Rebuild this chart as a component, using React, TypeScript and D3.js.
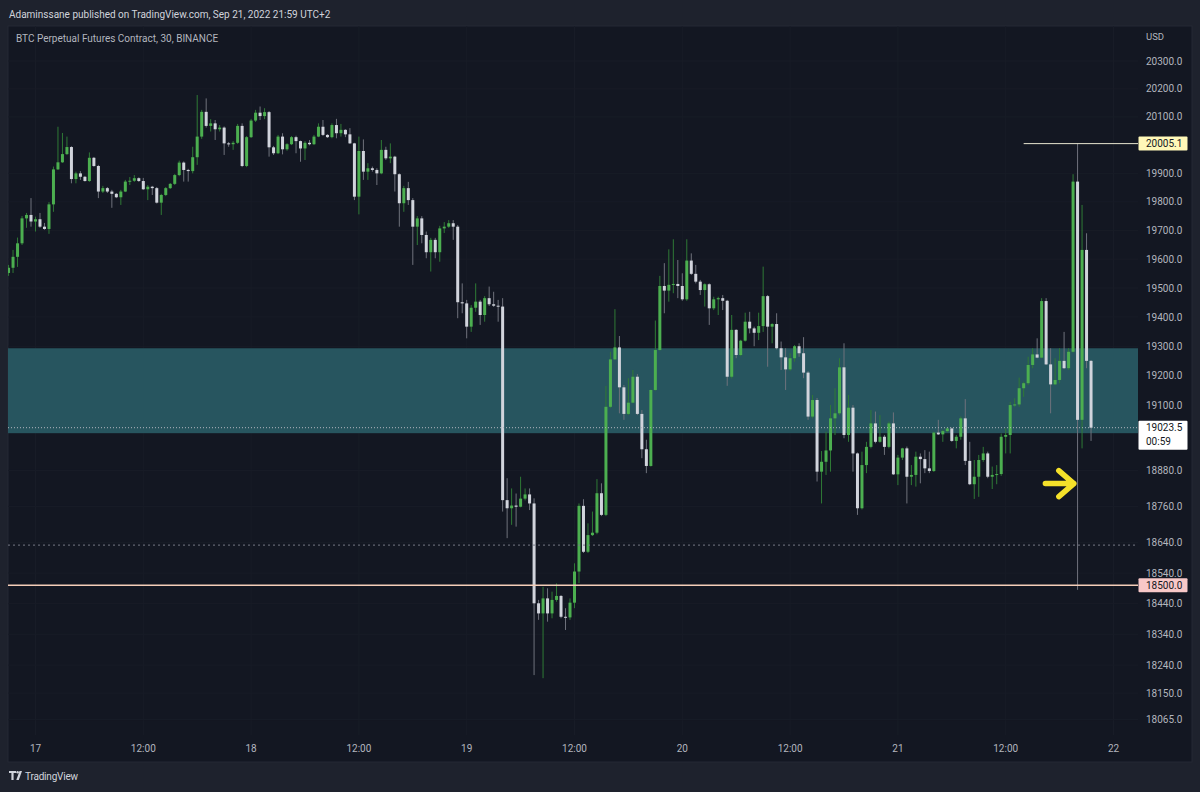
import React, { useEffect, useRef } from 'react';
import * as d3 from 'd3';

// ---- Data: BTC Perpetual 30m candles, first candle Sep 16 21:00 ----
const FIRST_CANDLE = Date.UTC(2022, 8, 16, 21, 0);
const STEP_MS = 30 * 60 * 1000;

const OPEN = [
  19552, 19570, 19608, 19655, 19742, 19754, 19731, 19739, 19713, 19705, 19791, 19914, 19939, 19968, 19993, 19880, 19900, 19888, 19873, 19955,
  19926, 19836, 19848, 19836, 19828, 19816, 19836, 19871, 19874, 19883, 19873, 19844, 19853, 19848, 19797, 19824, 19848, 19863, 19894, 19938,
  19912, 19908, 19957, 20030, 20118, 20068, 20077, 20056, 20062, 20006, 20003, 20008, 20068, 19926, 20028, 20087, 20115, 20103, 20117, 19992,
  19971, 20030, 19985, 20003, 20028, 20014, 19988, 20008, 20003, 20030, 20065, 20036, 20028, 20071, 20042, 20054, 20038, 20006, 19818, 19979,
  19906, 19918, 19912, 19900, 19983, 19953, 19959, 19897, 19795, 19848, 19806, 19713, 19742, 19684, 19624, 19667, 19624, 19707, 19713, 19725,
  19713, 19451, 19447, 19367, 19432, 19453, 19407, 19465, 19444, 19439, 19436, 18781, 18754, 18763, 18759, 18786, 18800, 18770, 18441, 18408,
  18457, 18408, 18452, 18465, 18397, 18395, 18443, 18545, 18762, 18610, 18665, 18673, 18804, 18732, 19094, 19255, 19296, 19160, 19070, 19108,
  19196, 19070, 18951, 18895, 19151, 19287, 19507, 19491, 19511, 19514, 19507, 19461, 19595, 19549, 19522, 19493, 19513, 19430, 19461, 19465,
  19456, 19196, 19356, 19270, 19319, 19384, 19361, 19346, 19369, 19472, 19367, 19376, 19293, 19262, 19221, 19259, 19300, 19276, 19210, 19061,
  19117, 18876, 18909, 18947, 19055, 19072, 19228, 18999, 19091, 18937, 18754, 18898, 18959, 19038, 18976, 18993, 18959, 19038, 18867, 18923,
  18954, 18859, 18865, 18926, 18918, 18887, 18878, 19007, 19001, 19012, 19021, 18979, 18993, 19055, 18912, 18834, 18859, 18915, 18937, 18859,
  18865, 18868, 18993, 18999, 19100, 19102, 19157, 19174, 19236, 19272, 19261, 19455, 19238, 19170, 19185, 19250, 19225, 19281, 19871, 19050,
  19632, 19250,
];
const HIGH = [
  19580, 19632, 19675, 19750, 19761, 19813, 19748, 19761, 19726, 19799, 19924, 20065, 20043, 20030, 19996, 19906, 19908, 19891, 19974, 19958,
  19930, 19856, 19852, 19842, 19831, 19842, 19877, 19887, 19894, 19886, 19884, 19859, 19856, 19852, 19828, 19852, 19866, 19898, 19945, 19942,
  19916, 19994, 20178, 20125, 20166, 20092, 20089, 20071, 20066, 20011, 20014, 20075, 20077, 20032, 20093, 20125, 20137, 20131, 20121, 19997,
  20036, 20042, 20007, 20032, 20033, 20016, 20014, 20018, 20036, 20077, 20089, 20039, 20077, 20093, 20075, 20056, 20060, 20008, 20030, 20020,
  19936, 19924, 19918, 20018, 19994, 20006, 19962, 19900, 19856, 19870, 19813, 19750, 19750, 19696, 19674, 19674, 19716, 19729, 19736, 19736,
  19719, 19516, 19459, 19441, 19516, 19459, 19472, 19505, 19487, 19459, 19465, 18854, 18820, 18803, 18859, 18820, 18820, 18787, 18452, 18495,
  18490, 18479, 18506, 18468, 18425, 18457, 18572, 18770, 18784, 18704, 18743, 18851, 18837, 19165, 19281, 19427, 19335, 19168, 19191, 19219,
  19205, 19083, 18983, 19153, 19388, 19542, 19586, 19634, 19669, 19597, 19551, 19669, 19620, 19580, 19528, 19516, 19516, 19470, 19470, 19476,
  19459, 19407, 19358, 19322, 19415, 19418, 19367, 19415, 19574, 19476, 19379, 19413, 19316, 19293, 19276, 19304, 19310, 19331, 19215, 19134,
  19124, 18945, 19010, 19100, 19157, 19259, 19310, 19134, 19100, 18940, 18943, 18976, 19083, 19078, 19066, 18999, 19044, 19075, 18932, 18956,
  18960, 18898, 18943, 18937, 18948, 18943, 19010, 19050, 19016, 19025, 19024, 18999, 19061, 19120, 18976, 18915, 18932, 18959, 18943, 18893,
  18898, 19004, 19021, 19111, 19123, 19193, 19179, 19264, 19293, 19327, 19465, 19465, 19293, 19259, 19293, 19349, 19293, 19897, 20005.1, 19789,
  19690, 19253,
];
const LOW = [
  19542, 19552, 19573, 19649, 19709, 19713, 19696, 19709, 19702, 19688, 19765, 19912, 19937, 19965, 19865, 19865, 19877, 19871, 19870, 19923,
  19813, 19831, 19831, 19779, 19813, 19789, 19834, 19859, 19870, 19870, 19842, 19806, 19824, 19794, 19754, 19820, 19845, 19859, 19890, 19871,
  19871, 19900, 19930, 20022, 20062, 20048, 20018, 20048, 19965, 19994, 19983, 20004, 19922, 19922, 20025, 20082, 20089, 20092, 19959, 19965,
  19968, 19967, 19980, 20000, 19971, 19941, 19947, 19999, 20000, 20028, 20032, 20025, 20024, 20024, 20030, 20028, 20004, 19806, 19756, 19877,
  19877, 19906, 19859, 19897, 19947, 19936, 19836, 19713, 19765, 19789, 19580, 19649, 19655, 19603, 19557, 19603, 19591, 19691, 19709, 19667,
  19396, 19413, 19327, 19349, 19418, 19373, 19384, 19438, 19435, 19384, 18743, 18655, 18699, 18693, 18757, 18780, 18748, 18208, 18387, 18198,
  18381, 18392, 18446, 18392, 18354, 18387, 18425, 18507, 18606, 18606, 18662, 18668, 18728, 18728, 19090, 19253, 19072, 19050, 19066, 19106,
  19066, 18921, 18871, 18893, 19148, 19285, 19413, 19453, 19482, 19465, 19456, 19456, 19545, 19516, 19476, 19436, 19373, 19424, 19407, 19424,
  19165, 19190, 19259, 19266, 19316, 19344, 19300, 19321, 19349, 19230, 19310, 19289, 19219, 19151, 19216, 19247, 19264, 19191, 19050, 19055,
  18843, 18770, 18865, 18876, 18999, 19066, 18988, 18976, 18876, 18732, 18750, 18871, 18954, 18971, 18973, 18932, 18954, 18865, 18831, 18915,
  18770, 18831, 18826, 18837, 18871, 18871, 18875, 18999, 18976, 19008, 18976, 18954, 18983, 18898, 18831, 18785, 18792, 18909, 18854, 18818,
  18834, 18862, 18937, 18937, 19094, 19094, 19128, 19168, 19225, 19259, 19259, 19236, 19072, 19168, 19174, 19222, 19219, 19278, 18485, 18954,
  19225, 18979,
];
const CLOSE = [
  19570, 19608, 19655, 19742, 19754, 19731, 19739, 19713, 19705, 19791, 19914, 19939, 19968, 19993, 19880, 19900, 19888, 19873, 19955, 19926,
  19836, 19848, 19836, 19828, 19816, 19836, 19871, 19874, 19883, 19873, 19844, 19853, 19848, 19797, 19824, 19848, 19863, 19894, 19938, 19912,
  19908, 19957, 20030, 20118, 20068, 20077, 20056, 20062, 20006, 20003, 20008, 20068, 19926, 20028, 20087, 20115, 20103, 20117, 19992, 19971,
  20030, 19985, 20003, 20028, 20014, 19988, 20008, 20003, 20030, 20065, 20036, 20028, 20071, 20042, 20054, 20038, 20006, 19818, 19979, 19906,
  19918, 19912, 19900, 19983, 19953, 19959, 19897, 19795, 19848, 19806, 19713, 19742, 19684, 19624, 19667, 19624, 19707, 19713, 19725, 19713,
  19451, 19447, 19367, 19432, 19453, 19407, 19465, 19444, 19439, 19436, 18781, 18754, 18763, 18759, 18786, 18800, 18770, 18441, 18408, 18457,
  18408, 18452, 18465, 18397, 18395, 18443, 18545, 18762, 18610, 18665, 18673, 18804, 18732, 19094, 19255, 19296, 19160, 19070, 19108, 19196,
  19070, 18951, 18895, 19151, 19287, 19507, 19491, 19511, 19514, 19507, 19461, 19595, 19549, 19522, 19493, 19513, 19430, 19461, 19465, 19456,
  19196, 19356, 19270, 19319, 19384, 19361, 19346, 19369, 19472, 19367, 19376, 19293, 19262, 19221, 19259, 19300, 19276, 19210, 19061, 19117,
  18876, 18909, 18947, 19055, 19072, 19228, 18999, 19091, 18937, 18754, 18898, 18959, 19038, 18976, 18993, 18959, 19038, 18867, 18923, 18954,
  18859, 18865, 18926, 18918, 18887, 18878, 19007, 19001, 19012, 19021, 18979, 18993, 19055, 18912, 18834, 18859, 18915, 18937, 18859, 18865,
  18868, 18993, 18999, 19100, 19102, 19157, 19174, 19236, 19272, 19261, 19455, 19238, 19170, 19185, 19250, 19225, 19281, 19871, 19050, 19632,
  19250, 19023.5,
];

// ---- Axes ----
const PRICE_TICKS = [20300, 20200, 20100, 19900, 19800, 19700, 19600, 19500, 19400, 19300, 19200, 19100, 18880, 18760, 18640, 18540, 18440, 18340, 18240, 18150, 18065];
const TIME_LABELS = ['17', '12:00', '18', '12:00', '19', '12:00', '20', '12:00', '21', '12:00', '22'];
const TIME_FIRST_TICK = Date.UTC(2022, 8, 17, 0, 0);

// ---- Annotations ----
const ZONE = [19005, 19293];
const SUPPORT = 18500;
const DOTTED_LEVEL = 18632;
const SPIKE_HIGH = 20005.1;
const SPIKE_LINE_FROM = Date.UTC(2022, 8, 21, 14, 0);
const LAST_PRICE = 19023.5;
const COUNTDOWN = '00:59';
const ARROW_FROM = Date.UTC(2022, 8, 21, 16, 25);
const ARROW_TO = Date.UTC(2022, 8, 21, 19, 35);
const ARROW_PRICE = 18836;

const W = 1200;
const H = 792;
const FONT = 'Roboto, "Open Sans", sans-serif';

export default function App() {
  const ref = useRef<SVGSVGElement>(null);

  useEffect(() => {
    document.body.style.margin = '0';
    document.body.style.background = '#1e222d';
    const svg = d3.select(ref.current);
    svg.selectAll('*').remove();

    const plot = { left: 8, right: 1138, top: 26, bottom: 735 };
    const panel = { left: 8, right: 1192, top: 26, bottom: 762 };

    const x = d3.scaleUtc()
      .domain([new Date(Date.UTC(2022, 8, 17)), new Date(Date.UTC(2022, 8, 22))])
      .range([35.5, 1113.5]);
    const y = d3.scaleLog().domain([18065, 20300]).range([719.6, 61]);

    // backgrounds
    svg.append('rect').attr('x', 0).attr('y', 0).attr('width', W).attr('height', H).attr('fill', '#1e222d');
    svg.append('rect')
      .attr('x', panel.left).attr('y', panel.top)
      .attr('width', panel.right - panel.left).attr('height', panel.bottom - panel.top)
      .attr('fill', '#131722').attr('stroke', '#242835').attr('stroke-width', 1);

    // header
    svg.append('text').attr('x', 9).attr('y', 17.5)
      .attr('font-family', FONT).attr('font-size', 10).attr('fill', '#d1d4dc')
      .text('Adaminssane published on TradingView.com, Sep 21, 2022 21:59 UTC+2');

    const defs = svg.append('defs');
    defs.append('clipPath').attr('id', 'plotclip').append('rect')
      .attr('x', plot.left).attr('y', plot.top)
      .attr('width', plot.right - plot.left).attr('height', plot.bottom - plot.top);

    const g = svg.append('g').attr('clip-path', 'url(#plotclip)');

    // grid
    const tickTimes = TIME_LABELS.map((_, k) => new Date(TIME_FIRST_TICK + k * 12 * 3600 * 1000));
    g.selectAll('line.vgrid').data(tickTimes).enter().append('line')
      .attr('x1', d => x(d)).attr('x2', d => x(d))
      .attr('y1', plot.top).attr('y2', plot.bottom)
      .attr('stroke', '#181c27').attr('stroke-width', 1);
    g.selectAll('line.hgrid').data(PRICE_TICKS).enter().append('line')
      .attr('x1', plot.left).attr('x2', plot.right)
      .attr('y1', d => y(d)).attr('y2', d => y(d))
      .attr('stroke', '#181c27').attr('stroke-width', 1);

    // zone
    g.append('rect')
      .attr('x', plot.left).attr('width', plot.right - plot.left)
      .attr('y', y(ZONE[1])).attr('height', y(ZONE[0]) - y(ZONE[1]))
      .attr('fill', '#27555f');

    // candles
    const candles = OPEN.map((o, i) => ({
      t: new Date(FIRST_CANDLE + i * STEP_MS),
      o, h: HIGH[i], l: LOW[i], c: CLOSE[i],
    }));
    const bodyW = 3;
    const cg = g.append('g');
    cg.selectAll('line.wick').data(candles).enter().append('line')
      .attr('x1', d => x(d.t)).attr('x2', d => x(d.t))
      .attr('y1', d => y(Math.max(d.h, d.o, d.c))).attr('y2', d => y(Math.min(d.l, d.o, d.c)))
      .attr('stroke', d => (d.c >= d.o ? '#2f7a36' : '#6f727c'))
      .attr('stroke-width', 1);
    cg.selectAll('rect.body').data(candles).enter().append('rect')
      .attr('x', d => x(d.t) - bodyW / 2)
      .attr('width', bodyW)
      .attr('y', d => y(Math.max(d.o, d.c)))
      .attr('height', d => Math.max(1, Math.abs(y(d.o) - y(d.c))))
      .attr('fill', d => (d.c >= d.o ? '#4caf50' : '#d1d4dc'));

    // level lines
    g.append('line')
      .attr('x1', plot.left).attr('x2', plot.right)
      .attr('y1', y(DOTTED_LEVEL)).attr('y2', y(DOTTED_LEVEL))
      .attr('stroke', '#787b86').attr('stroke-width', 1).attr('stroke-dasharray', '2,3');
    g.append('line')
      .attr('x1', plot.left).attr('x2', plot.right)
      .attr('y1', y(SUPPORT)).attr('y2', y(SUPPORT))
      .attr('stroke', '#f4cdb8').attr('stroke-width', 1.5);
    g.append('line')
      .attr('x1', plot.left).attr('x2', plot.right)
      .attr('y1', y(LAST_PRICE)).attr('y2', y(LAST_PRICE))
      .attr('stroke', '#b2b5be').attr('stroke-width', 1).attr('stroke-dasharray', '1,2');
    g.append('line')
      .attr('x1', x(new Date(SPIKE_LINE_FROM))).attr('x2', plot.right)
      .attr('y1', y(SPIKE_HIGH)).attr('y2', y(SPIKE_HIGH))
      .attr('stroke', '#e8e6d0').attr('stroke-width', 1);

    // arrow
    const ay = y(ARROW_PRICE);
    const ax0 = x(new Date(ARROW_FROM));
    const ax1 = x(new Date(ARROW_TO));
    g.append('path')
      .attr('d', `M${ax0},${ay}L${ax1},${ay}M${ax1 - 15},${ay - 13}L${ax1},${ay}L${ax1 - 15},${ay + 13}`)
      .attr('fill', 'none').attr('stroke', '#f5e12a').attr('stroke-width', 5.5)
      .attr('stroke-linecap', 'round').attr('stroke-linejoin', 'round');

    // title
    svg.append('text').attr('x', 16).attr('y', 41.5)
      .attr('font-family', FONT).attr('font-size', 10).attr('fill', '#b2b5be')
      .text('BTC Perpetual Futures Contract, 30, BINANCE');

    // price axis
    const axisX = 1146;
    svg.append('text').attr('x', axisX).attr('y', 39.5)
      .attr('font-family', FONT).attr('font-size', 9.5).attr('fill', '#b2b5be').text('USD');
    svg.selectAll('text.ptick').data(PRICE_TICKS).enter().append('text')
      .attr('x', axisX).attr('y', d => y(d) + 3.5)
      .attr('font-family', FONT).attr('font-size', 10).attr('fill', '#b2b5be')
      .text(d => d3.format('.1f')(d));

    const labelBox = (price: number, fill: string, lines: string[]) => {
      const cy = y(price);
      const hgt = lines.length > 1 ? 29 : 14;
      const top = cy - 7;
      svg.append('rect').attr('x', 1138.5).attr('y', top).attr('width', 49).attr('height', hgt)
        .attr('fill', fill).attr('rx', 1);
      lines.forEach((s, k) => {
        svg.append('text').attr('x', axisX).attr('y', top + 10.5 + k * 13.5)
          .attr('font-family', FONT).attr('font-size', 10).attr('fill', '#131722').text(s);
      });
    };
    labelBox(SPIKE_HIGH, '#fff8b8', [d3.format('.1f')(SPIKE_HIGH)]);
    labelBox(SUPPORT, '#f8c8c8', [d3.format('.1f')(SUPPORT)]);
    labelBox(LAST_PRICE, '#ffffff', [d3.format('.1f')(LAST_PRICE), COUNTDOWN]);

    // time axis
    svg.selectAll('text.ttick').data(tickTimes).enter().append('text')
      .attr('x', d => x(d)).attr('y', 752)
      .attr('text-anchor', 'middle')
      .attr('font-family', FONT).attr('font-size', 10).attr('fill', '#b2b5be')
      .text((_, k) => TIME_LABELS[k]);

    // footer logo
    const logo = svg.append('g').attr('transform', 'translate(9,771)');
    logo.append('path').attr('d', 'M0,0H7V2H4.6V9H2.4V2H0Z').attr('fill', '#d1d4dc');
    logo.append('circle').attr('cx', 8.6).attr('cy', 1.2).attr('r', 1.2).attr('fill', '#d1d4dc');
    logo.append('path').attr('d', 'M10.5,0H13L9.8,9H7.3Z').attr('fill', '#d1d4dc');
    svg.append('text').attr('x', 25).attr('y', 780)
      .attr('font-family', FONT).attr('font-size', 10).attr('fill', '#d1d4dc')
      .attr('letter-spacing', -0.2)
      .text('TradingView');
  }, []);

  return (
    <div style={{ position: 'absolute', left: 0, top: 0, width: W, height: H }}>
      <svg ref={ref} width={W} height={H} style={{ display: 'block' }} />
    </div>
  );
}
